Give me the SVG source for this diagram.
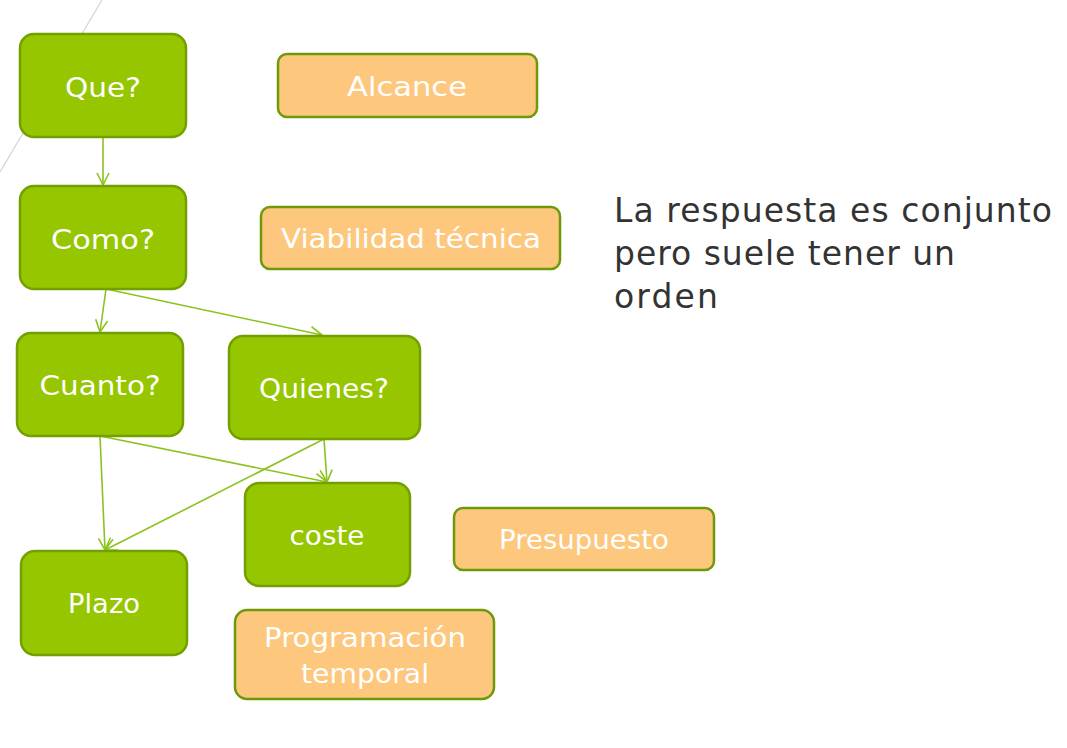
<svg xmlns="http://www.w3.org/2000/svg" width="1067" height="748" viewBox="0 0 1067 748">
<defs>
<marker id="arr" viewBox="0 0 14 14" refX="13" refY="7" markerWidth="14" markerHeight="14" markerUnits="userSpaceOnUse" orient="auto">
<path d="M1,1 L13,7 L1,13" fill="none" stroke="#8CC220" stroke-width="1.6"/>
</marker>
<style>
.g{fill:#95C600;stroke:#72A000;stroke-width:2.5}
.o{fill:#FDC77D;stroke:#6E9A0A;stroke-width:2.5}
.t{font-family:"DejaVu Sans","Liberation Sans",sans-serif;font-size:27px;fill:#ffffff;text-anchor:middle}
.r{font-family:"DejaVu Sans","Liberation Sans",sans-serif;font-size:33px;fill:#333333}
.c{fill:none;stroke:#8CC220;stroke-width:1.6;marker-end:url(#arr)}
</style>
</defs>
<rect width="1067" height="748" fill="#ffffff"/>
<line x1="102" y1="0" x2="0" y2="172" stroke="#d4d4d4" stroke-width="1.2"/>
<g id="connectors">
<line class="c" x1="103" y1="137" x2="103" y2="185"/>
<line class="c" x1="106" y1="289" x2="100" y2="332"/>
<line class="c" x1="106" y1="289" x2="322" y2="335"/>
<line class="c" x1="100" y1="436" x2="105" y2="550"/>
<line class="c" x1="100" y1="436" x2="327" y2="482"/>
<line class="c" x1="324" y1="439" x2="327" y2="482"/>
<line class="c" x1="324" y1="439" x2="105" y2="550"/>
</g>
<g id="que"><rect class="g" x="20" y="34" width="166" height="103" rx="14"/><text class="t" x="103" y="97" textLength="76" lengthAdjust="spacingAndGlyphs">Que?</text></g>
<g id="como"><rect class="g" x="20" y="186" width="166" height="103" rx="14"/><text class="t" x="103" y="249" textLength="104" lengthAdjust="spacingAndGlyphs">Como?</text></g>
<g id="cuanto"><rect class="g" x="17" y="333" width="166" height="103" rx="14"/><text class="t" x="100" y="395" textLength="121" lengthAdjust="spacingAndGlyphs">Cuanto?</text></g>
<g id="quienes"><rect class="g" x="229" y="336" width="191" height="103" rx="14"/><text class="t" x="324" y="398" textLength="130" lengthAdjust="spacingAndGlyphs">Quienes?</text></g>
<g id="coste"><rect class="g" x="245" y="483" width="165" height="103" rx="14"/><text class="t" x="327" y="545" textLength="75" lengthAdjust="spacingAndGlyphs">coste</text></g>
<g id="plazo"><rect class="g" x="21" y="551" width="166" height="104" rx="14"/><text class="t" x="104" y="613" textLength="72" lengthAdjust="spacingAndGlyphs">Plazo</text></g>
<g id="alcance"><rect class="o" x="278" y="54" width="259" height="63" rx="9"/><text class="t" x="407" y="96" textLength="120" lengthAdjust="spacingAndGlyphs">Alcance</text></g>
<g id="viabilidad"><rect class="o" x="261" y="207" width="299" height="62" rx="9"/><text class="t" x="411" y="248" textLength="260" lengthAdjust="spacingAndGlyphs">Viabilidad técnica</text></g>
<g id="presupuesto"><rect class="o" x="454" y="508" width="260" height="62" rx="9"/><text class="t" x="584" y="549" textLength="170" lengthAdjust="spacingAndGlyphs">Presupuesto</text></g>
<g id="programacion"><rect class="o" x="235" y="610" width="259" height="89" rx="12"/><text class="t" x="365" y="647" textLength="202" lengthAdjust="spacingAndGlyphs">Programación</text><text class="t" x="365" y="683" textLength="128" lengthAdjust="spacingAndGlyphs">temporal</text></g>
<g id="nota">
<text class="r" x="614" y="222" textLength="438">La respuesta es conjunto</text>
<text class="r" x="614" y="265" textLength="341">pero suele tener un</text>
<text class="r" x="614" y="308" textLength="104">orden</text>
</g>
</svg>
